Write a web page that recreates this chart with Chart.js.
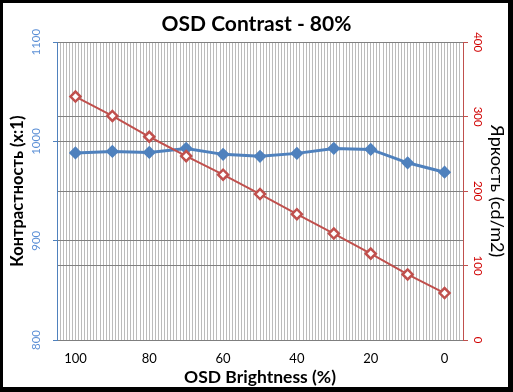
<!DOCTYPE html>
<html>
<head>
<meta charset="utf-8">
<script src="https://cdn.jsdelivr.net/npm/chart.js@4/dist/chart.umd.min.js"></script>
<style>
  html, body { margin: 0; padding: 0; background: #fff; }
  #wrap { position: relative; width: 513px; height: 392px; }
  #frame {
    position: absolute; left: 0; top: 0; width: 513px; height: 392px;
    box-sizing: border-box; border-style: solid; border-color: #000;
    border-width: 3px 5px 5px 3px; pointer-events: none;
  }
</style>
</head>
<body>
<div id="wrap">
  <canvas id="chart" width="513" height="392"></canvas>
  <div id="frame"></div>
</div>
<script>
// === données ===
const categories = ['100', '90', '80', '70', '60', '50', '40', '30', '20', '10', '0'];
const contrast = [988.5, 990, 989, 993, 987, 985, 988, 993, 992, 978.5, 969];
const brightness = [327, 301, 273, 247, 222, 196, 169, 143, 116, 88, 63];
const contrastRange = [800, 1100];
const brightnessRange = [0, 400];
const tickStep = 100;

const FONT = 'Lato, "Liberation Sans", "DejaVu Sans", sans-serif';
const MINOR = 12; // stries fines par catégorie

Chart.defaults.font.family = FONT;

const ctx = document.getElementById('chart').getContext('2d');
new Chart(ctx, {
  type: 'line',
  data: {
    labels: categories,
    datasets: [
      {
        label: 'Яркость (cd/m2)',
        data: brightness,
        xAxisID: 'x',
        yAxisID: 'y1',
        borderColor: '#c0504d',
        borderWidth: 2,
        pointStyle: 'rectRot',
        pointRadius: 5,
        pointBorderWidth: 2.5,
        pointBackgroundColor: '#fff',
        pointBorderColor: '#c0504d',
        tension: 0
      },
      {
        label: 'Контрастность (x:1)',
        data: contrast,
        xAxisID: 'x',
        yAxisID: 'y',
        borderColor: '#4f81bd',
        borderWidth: 3,
        pointStyle: 'rectRot',
        pointRadius: 4.5,
        pointBackgroundColor: '#4f81bd',
        pointBorderColor: '#4f81bd',
        tension: 0
      }
    ]
  },
  options: {
    responsive: false,
    animation: false,
    layout: { padding: 0 },
    plugins: {
      legend: { display: false },
      tooltip: { enabled: false },
      title: {
        display: true,
        text: 'OSD Contrast - 80%',
        color: '#000',
        font: { size: 21, weight: 'bold' },
        lineHeight: 1.2,
        padding: { top: 12, bottom: 5 }
      }
    },
    scales: {
      x: {
        type: 'category',
        offset: true,
        grid: { offset: true, color: '#808080', drawTicks: false },
        border: { color: '#7f7f7f' },
        ticks: {
          autoSkip: false,
          maxRotation: 0,
          padding: 11,
          color: '#000',
          font: { size: 13 },
          callback: (v, i) => (i % 2 === 0 ? categories[i] : '')
        },
        title: {
          display: true,
          text: 'OSD Brightness (%)',
          color: '#000',
          font: { size: 17.5, weight: 'bold' },
          padding: { top: 0, bottom: 4 }
        },
        afterFit: s => { s.height = 52; }
      },
      xm: {
        type: 'linear',
        position: 'bottom',
        min: 0,
        max: categories.length * MINOR,
        z: -1,
        ticks: { display: false, stepSize: 1, maxTicksLimit: 1000 },
        grid: { color: '#bcbcbc', lineWidth: 1, drawTicks: false },
        border: { display: false },
        afterFit: s => { s.height = 0; }
      },
      y: {
        position: 'left',
        min: contrastRange[0],
        max: contrastRange[1],
        ticks: {
          stepSize: tickStep,
          minRotation: 90,
          crossAlign: 'center',
          padding: 3,
          color: '#5b8fd6',
          font: { size: 11.5 },
          callback: v => String(v)
        },
        grid: { color: '#808080', tickColor: '#4f81bd', tickLength: 4 },
        border: { color: '#4f81bd' },
        title: {
          display: true,
          text: 'Контрастность (x:1)',
          color: '#000',
          font: { size: 16.5, weight: 'bold' },
          padding: { top: 8, bottom: 0 }
        },
        afterFit: s => { s.width = 57; }
      },
      y1: {
        position: 'right',
        min: brightnessRange[0],
        max: brightnessRange[1],
        ticks: {
          stepSize: tickStep,
          minRotation: -90,
          crossAlign: 'center',
          padding: 0,
          color: '#d00000',
          font: { size: 11.5 },
          callback: v => String(v)
        },
        grid: { color: '#808080', tickColor: '#c0504d', tickLength: 5 },
        border: { color: '#c0504d' },
        title: {
          display: true,
          text: 'Яркость (cd/m2)',
          color: '#000',
          font: { size: 18 },
          padding: { top: 5, bottom: 0 }
        },
        afterFit: s => { s.width = 50; }
      }
    }
  }
});
</script>
</body>
</html>
